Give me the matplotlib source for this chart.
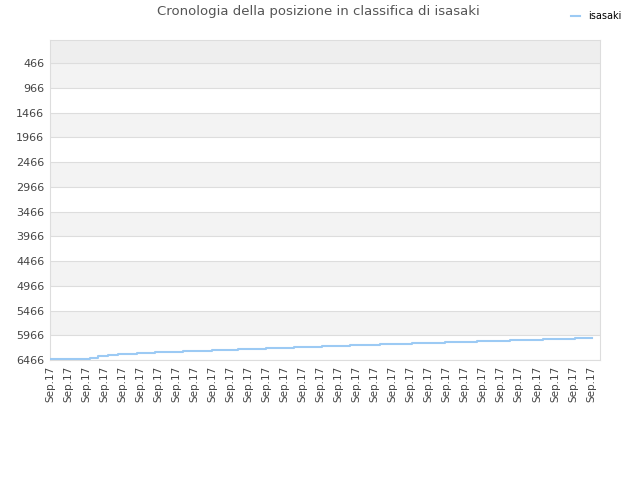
import matplotlib
matplotlib.use('Agg')
import matplotlib.pyplot as plt
import numpy as np

# rank history (x = position along the date axis, in label units)
step_x = [0, 1.66, 2.22, 2.66, 3.22, 3.77, 4.27, 4.83, 5.82, 7.38, 8.98, 10.43,
          11.98, 13.53, 15.09, 16.64, 18.30, 20.08, 21.91, 23.68, 25.51, 27.34,
          29.12, 30.05]
ranks = [6452, 6440, 6420, 6391, 6371, 6351, 6339, 6319, 6299, 6278, 6258, 6238,
         6218, 6198, 6178, 6157, 6137, 6117, 6097, 6077, 6056, 6036, 6016, 6016]
tick_labels = ['Sep.17'] * 31
y_ticks = [466, 966, 1466, 1966, 2466, 2966, 3466, 3966, 4466, 4966, 5466, 5966, 6466]

fig = plt.figure(figsize=(6.4, 4.8), dpi=100)
ax = fig.add_axes([0.078, 0.25, 0.8595, 0.6667])

# background bands
ax.axhspan(1, 466, color='#eeeeee', zorder=0, lw=0)
for i in range(0, len(y_ticks) - 1, 2):
    ax.axhspan(y_ticks[i], y_ticks[i + 1], color='#f3f3f3', zorder=0, lw=0)
for t in y_ticks:
    ax.axhline(t, color='#dddddd', lw=0.8, zorder=1)

ax.step(step_x, ranks, where='post', color='#9ccaf4', lw=1.5, zorder=3, label='isasaki')

ax.set_ylim(6466, 1)
ax.set_xlim(0, 30.5)
ax.set_yticks(y_ticks)
ax.set_yticklabels([str(t) for t in y_ticks], fontsize=8, color='#444444')
ax.set_xticks(np.arange(len(tick_labels)))
ax.set_xticklabels(tick_labels, rotation=90, fontsize=7.5, color='#444444')
ax.tick_params(length=0, pad=4)
for s in ax.spines.values():
    s.set_color('#dddddd')

fig.text(0.497, 0.975, 'Cronologia della posizione in classifica di isasaki',
         ha='center', va='center', fontsize=9.5, color='#555555')
fig.legend(loc='upper right', bbox_to_anchor=(0.985, 0.995), frameon=False,
           fontsize=7, handlelength=1.0, handletextpad=0.8)

plt.savefig('out.png')
